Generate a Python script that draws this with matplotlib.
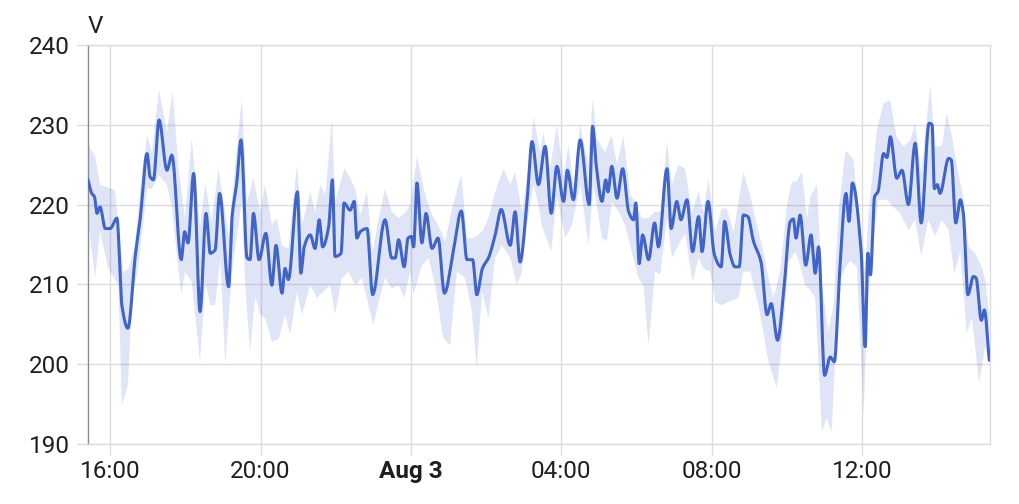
import numpy as np
import matplotlib
matplotlib.use("Agg")
import matplotlib.pyplot as plt

plt.rcParams['font.family'] = ['Roboto', 'DejaVu Sans']

# ---- data (hours since Aug 2 00:00; values in volts) ----
line_hours = [15.41, 15.51, 15.58, 15.65, 15.73, 15.87, 16.00, 16.18, 16.31, 16.47,
              16.67, 16.80, 16.98, 17.06, 17.15, 17.30, 17.51, 17.64, 17.89, 17.98,
              18.07, 18.22, 18.39, 18.55, 18.66, 18.79, 18.91, 19.15, 19.24, 19.37,
              19.48, 19.64, 19.72, 19.81, 19.96, 20.14, 20.30, 20.41, 20.57, 20.65,
              20.74, 20.98, 21.07, 21.16, 21.32, 21.45, 21.56, 21.65, 21.81, 21.91,
              21.98, 22.14, 22.22, 22.38, 22.49, 22.56, 22.65, 22.83, 22.98, 23.31,
              23.49, 23.58, 23.67, 23.82, 23.92, 24.01, 24.07, 24.16, 24.29, 24.40,
              24.56, 24.72, 24.89, 25.13, 25.34, 25.49, 25.64, 25.75, 25.90, 26.06,
              26.24, 26.40, 26.64, 26.77, 26.90, 27.08, 27.22, 27.39, 27.57, 27.73,
              27.88, 28.06, 28.16, 28.32, 28.50, 28.74, 28.83, 28.93, 29.08, 29.18,
              29.24, 29.34, 29.48, 29.63, 29.79, 29.92, 29.98, 30.07, 30.16, 30.32,
              30.48, 30.58, 30.81, 30.92, 31.07, 31.18, 31.34, 31.49, 31.65, 31.74,
              31.90, 32.07, 32.25, 32.34, 32.49, 32.62, 32.73, 32.84, 32.96, 33.11,
              33.31, 33.47, 33.58, 33.75, 33.91, 34.09, 34.17, 34.24, 34.35, 34.50,
              34.64, 34.75, 34.84, 35.00, 35.15, 35.26, 35.40, 35.57, 35.65, 35.74,
              35.97, 36.08, 36.15, 36.22, 36.33, 36.42, 36.57, 36.66, 36.75, 36.92,
              37.06, 37.23, 37.41, 37.57, 37.78, 37.86, 37.92, 38.00, 38.07, 38.30,
              38.37, 38.49, 38.61, 38.69, 38.81, 38.96, 39.03, 39.17, 39.25, 39.38]
line_volts = [223.1, 221.4, 221.0, 218.9, 219.7, 217.0, 217.0, 218.3, 207.4, 204.5,
              213.7, 218.3, 226.4, 223.5, 223.1, 230.6, 224.3, 226.2, 213.1, 216.6,
              215.2, 223.9, 206.6, 218.9, 213.9, 214.3, 221.4, 209.7, 218.3, 222.9,
              228.1, 213.3, 213.1, 218.9, 213.1, 216.4, 209.9, 214.9, 208.9, 212.0,
              210.6, 221.6, 211.4, 214.7, 216.2, 214.5, 218.1, 214.7, 217.2, 223.1,
              213.5, 213.9, 220.2, 219.3, 220.4, 215.8, 216.6, 217.0, 208.7, 218.1,
              213.3, 213.3, 215.6, 212.2, 215.8, 216.0, 214.7, 222.7, 215.2, 218.9,
              214.5, 215.8, 208.9, 214.3, 219.2, 213.1, 213.1, 208.7, 212.0, 213.3,
              216.2, 219.4, 214.9, 219.1, 212.8, 220.0, 227.9, 222.5, 227.3, 218.9,
              224.8, 220.4, 224.3, 220.6, 228.1, 220.0, 229.8, 224.8, 220.4, 223.1,
              221.6, 224.8, 220.8, 224.5, 219.1, 218.1, 220.2, 212.6, 216.2, 213.1,
              217.7, 214.7, 224.5, 217.0, 220.4, 218.1, 220.6, 214.1, 218.5, 214.1,
              220.4, 213.7, 212.2, 217.9, 213.7, 212.2, 212.2, 218.7, 218.5, 215.4,
              212.8, 206.2, 207.6, 203.0, 208.9, 217.9, 218.2, 215.8, 218.7, 212.4,
              216.2, 211.4, 214.7, 198.6, 200.9, 200.3, 211.5, 221.4, 217.9, 222.7,
              214.3, 202.2, 213.9, 211.2, 221.0, 221.6, 226.4, 225.9, 228.5, 223.3,
              224.3, 220.0, 227.7, 217.7, 230.2, 230.0, 222.0, 222.5, 221.4, 225.8,
              225.6, 217.7, 220.6, 218.9, 208.7, 211.0, 210.8, 205.5, 206.8, 200.5]

max_hours = [15.41, 15.60, 15.73, 16.13, 16.22, 16.35, 16.49, 16.66, 16.84, 16.98,
             17.11, 17.30, 17.51, 17.66, 17.82, 17.99, 18.17, 18.39, 18.53, 18.70,
             18.88, 19.15, 19.28, 19.50, 19.64, 19.81, 19.99, 20.12, 20.30, 20.43,
             20.57, 20.74, 20.97, 21.10, 21.32, 21.45, 21.59, 21.72, 21.90, 21.98,
             22.23, 22.38, 22.52, 22.65, 22.83, 22.98, 23.14, 23.31, 23.49, 23.67,
             23.85, 23.98, 24.16, 24.38, 24.56, 24.73, 24.91, 25.09, 25.34, 25.49,
             25.66, 25.89, 26.06, 26.24, 26.46, 26.64, 26.77, 26.95, 27.13, 27.26,
             27.44, 27.52, 27.70, 27.88, 28.06, 28.19, 28.32, 28.50, 28.72, 28.83,
             28.94, 29.16, 29.34, 29.48, 29.65, 29.83, 29.96, 30.14, 30.32, 30.49,
             30.63, 30.81, 30.94, 31.11, 31.29, 31.47, 31.65, 31.78, 31.91, 32.09,
             32.27, 32.40, 32.58, 32.84, 33.02, 33.20, 33.38, 33.51, 33.64, 33.82,
             34.00, 34.13, 34.26, 34.40, 34.53, 34.64, 34.80, 34.93, 35.10, 35.24,
             35.37, 35.53, 35.57, 35.77, 35.95, 36.08, 36.17, 36.39, 36.57, 36.74,
             36.92, 37.10, 37.28, 37.41, 37.57, 37.81, 37.94, 38.12, 38.25, 38.39,
             38.56, 38.69, 38.83, 39.01, 39.18, 39.27, 39.38]
max_volts = [227.5, 226.0, 222.5, 221.8, 217.4, 211.6, 212.0, 214.9, 223.7, 228.7,
             226.6, 234.4, 229.1, 234.1, 224.5, 218.3, 228.3, 217.4, 222.5, 217.9,
             224.5, 216.2, 222.9, 233.3, 220.4, 223.3, 219.1, 222.5, 217.4, 218.3,
             214.9, 214.5, 225.0, 217.4, 221.6, 219.1, 222.5, 221.2, 230.8, 220.4,
             224.5, 223.3, 222.0, 218.7, 221.6, 214.1, 218.3, 222.0, 219.1, 218.3,
             219.0, 220.0, 226.0, 221.2, 218.7, 217.4, 215.4, 219.5, 223.7, 215.8,
             215.8, 216.6, 218.3, 221.6, 224.5, 222.5, 224.1, 219.1, 224.5, 231.0,
             226.6, 229.0, 224.5, 230.0, 223.7, 227.5, 222.5, 230.0, 225.0, 233.3,
             228.3, 226.6, 228.7, 225.0, 228.7, 221.2, 220.4, 218.3, 218.3, 219.1,
             219.1, 227.9, 222.5, 225.0, 224.5, 219.1, 221.6, 219.1, 223.3, 216.6,
             219.5, 219.5, 216.6, 224.1, 221.2, 217.4, 214.1, 210.8, 208.3, 211.6,
             220.0, 222.9, 222.9, 224.1, 218.3, 221.2, 222.5, 209.9, 204.1, 207.4,
             219.1, 225.8, 226.8, 225.6, 216.8, 211.4, 218.9, 229.3, 232.7, 233.1,
             228.5, 227.3, 228.1, 230.2, 223.9, 235.0, 227.3, 227.3, 231.4, 228.5,
             223.9, 221.0, 214.7, 213.9, 212.2, 210.6, 206.4]

min_hours = [15.41, 15.60, 15.73, 15.95, 16.22, 16.31, 16.47, 16.58, 16.75, 16.98,
             17.11, 17.30, 17.51, 17.64, 17.89, 17.99, 18.17, 18.39, 18.53, 18.66,
             18.79, 18.93, 19.06, 19.24, 19.41, 19.50, 19.59, 19.72, 19.86, 19.99,
             20.12, 20.30, 20.48, 20.65, 20.79, 20.97, 21.10, 21.32, 21.50, 21.67,
             21.85, 21.98, 22.16, 22.34, 22.52, 22.69, 22.87, 23.00, 23.14, 23.31,
             23.49, 23.67, 23.82, 23.98, 24.07, 24.29, 24.47, 24.64, 24.86, 25.04,
             25.22, 25.44, 25.62, 25.75, 25.89, 26.06, 26.24, 26.42, 26.64, 26.82,
             26.95, 27.08, 27.26, 27.39, 27.48, 27.73, 27.88, 28.10, 28.28, 28.50,
             28.72, 28.85, 29.08, 29.21, 29.34, 29.52, 29.70, 29.87, 30.05, 30.18,
             30.32, 30.49, 30.63, 30.81, 30.94, 31.11, 31.29, 31.49, 31.65, 31.78,
             31.96, 32.09, 32.27, 32.44, 32.71, 32.84, 33.02, 33.24, 33.51, 33.73,
             33.86, 34.04, 34.22, 34.35, 34.48, 34.62, 34.75, 34.93, 35.06, 35.19,
             35.33, 35.41, 35.57, 35.68, 35.86, 36.04, 36.13, 36.26, 36.43, 36.66,
             36.83, 37.01, 37.23, 37.41, 37.57, 37.76, 37.94, 38.12, 38.30, 38.45,
             38.61, 38.78, 38.92, 39.11, 39.27, 39.38]
min_volts = [217.9, 210.8, 216.6, 212.0, 209.9, 194.9, 197.4, 207.8, 212.4, 222.0,
             222.0, 223.7, 222.5, 219.6, 208.7, 211.6, 210.3, 200.3, 210.3, 207.4,
             207.4, 213.3, 199.9, 211.6, 217.4, 220.4, 209.9, 201.6, 208.5, 206.2,
             205.8, 202.8, 203.2, 206.2, 203.7, 209.1, 206.2, 209.9, 208.3, 209.1,
             209.9, 206.2, 210.8, 211.6, 209.9, 210.8, 207.4, 204.9, 207.8, 210.8,
             209.5, 209.9, 208.3, 211.6, 208.8, 212.4, 213.3, 209.9, 203.2, 202.4,
             211.6, 210.8, 206.6, 199.5, 209.1, 205.8, 213.3, 214.9, 213.3, 209.9,
             211.6, 217.4, 222.5, 220.0, 217.4, 214.1, 221.2, 215.8, 217.4, 222.5,
             214.9, 222.5, 215.8, 215.4, 220.4, 219.1, 217.4, 214.1, 210.8, 209.9,
             202.4, 211.6, 211.2, 218.3, 213.3, 214.9, 216.4, 210.3, 213.3, 212.0,
             211.6, 207.8, 207.4, 207.8, 208.3, 211.6, 211.6, 207.4, 200.3, 197.0,
             202.4, 212.8, 214.1, 212.4, 209.9, 209.3, 208.3, 191.5, 193.2, 191.5,
             205.8, 210.6, 212.2, 213.0, 212.2, 193.8, 206.4, 213.9, 220.6, 220.6,
             219.7, 218.9, 216.8, 218.1, 213.5, 218.1, 216.0, 218.1, 216.8, 211.4,
             214.1, 203.9, 205.8, 197.6, 202.2, 200.1]

x_ticks = [16, 20, 24, 28, 32, 36]
x_tick_labels = ["16:00", "20:00", "Aug 3", "04:00", "08:00", "12:00"]
y_ticks = [190, 200, 210, 220, 230, 240]
unit_label = "V"

LINE_COLOR = "#4064c8"
GRID_COLOR = "#dcdcdc"
TEXT_COLOR = "#1f1f1f"


def monotone_curve(x, y, per_seg=12):
    """Monotone cubic (Fritsch-Carlson) rendering of a polyline, like curveMonotoneX."""
    x = np.asarray(x, float)
    y = np.asarray(y, float)
    h = np.diff(x)
    d = np.diff(y) / h
    m = np.zeros_like(y)
    m[0], m[-1] = d[0], d[-1]
    for i in range(1, len(y) - 1):
        if d[i - 1] * d[i] <= 0:
            m[i] = 0.0
        else:
            w1 = 2 * h[i] + h[i - 1]
            w2 = h[i] + 2 * h[i - 1]
            m[i] = (w1 + w2) / (w1 / d[i - 1] + w2 / d[i])
    xs, ys = [], []
    for i in range(len(h)):
        t = np.linspace(0, 1, per_seg, endpoint=False)
        h00 = 2 * t**3 - 3 * t**2 + 1
        h10 = t**3 - 2 * t**2 + t
        h01 = -2 * t**3 + 3 * t**2
        h11 = t**3 - t**2
        xs.append(x[i] + t * h[i])
        ys.append(h00 * y[i] + h10 * h[i] * m[i] + h01 * y[i + 1] + h11 * h[i] * m[i + 1])
    xs.append([x[-1]])
    ys.append([y[-1]])
    return np.concatenate(xs), np.concatenate(ys)


fig = plt.figure(figsize=(10.2, 5.04), dpi=100)
ax = fig.add_axes([88 / 1020, 1 - 444 / 504, (990 - 88) / 1020, (444 - 45) / 504])

# min/max band
bx = np.concatenate([np.asarray(max_hours), np.asarray(min_hours)[::-1]])
by = np.concatenate([np.asarray(max_volts), np.asarray(min_volts)[::-1]])
ax.fill(bx, by, color="#4269d0", alpha=0.17, lw=0, zorder=2)

# mean line
sx, sy = monotone_curve(line_hours, line_volts)
ax.plot(sx, sy, color=LINE_COLOR, lw=2.2, solid_joinstyle='round',
        solid_capstyle='round', zorder=3)

ax.set_xlim(15.41, 39.40)
ax.set_ylim(190, 240)
ax.set_xticks(x_ticks)
ax.set_xticklabels(x_tick_labels)
ax.set_yticks(y_ticks)

ax.set_axisbelow(True)
ax.grid(True, color=GRID_COLOR, lw=1.0)
ax.tick_params(axis='both', length=8, width=1.0, color=GRID_COLOR,
               labelsize=17.5, labelcolor=TEXT_COLOR)
ax.tick_params(axis='y', pad=5)
ax.tick_params(axis='x', pad=3.5)
for lbl in ax.get_xticklabels():
    if lbl.get_text() == "Aug 3":
        lbl.set_fontweight('bold')

for side in ['top', 'right', 'bottom']:
    ax.spines[side].set_color(GRID_COLOR)
    ax.spines[side].set_linewidth(1.0)
ax.spines['left'].set_color('#8c8c8c')
ax.spines['left'].set_linewidth(1.0)

ax.annotate(unit_label, xy=(0, 1), xycoords='axes fraction',
            xytext=(0, 5), textcoords='offset points',
            ha='left', va='bottom', fontsize=17.5, color=TEXT_COLOR)

fig.savefig("out.png", dpi=100, facecolor='white')
